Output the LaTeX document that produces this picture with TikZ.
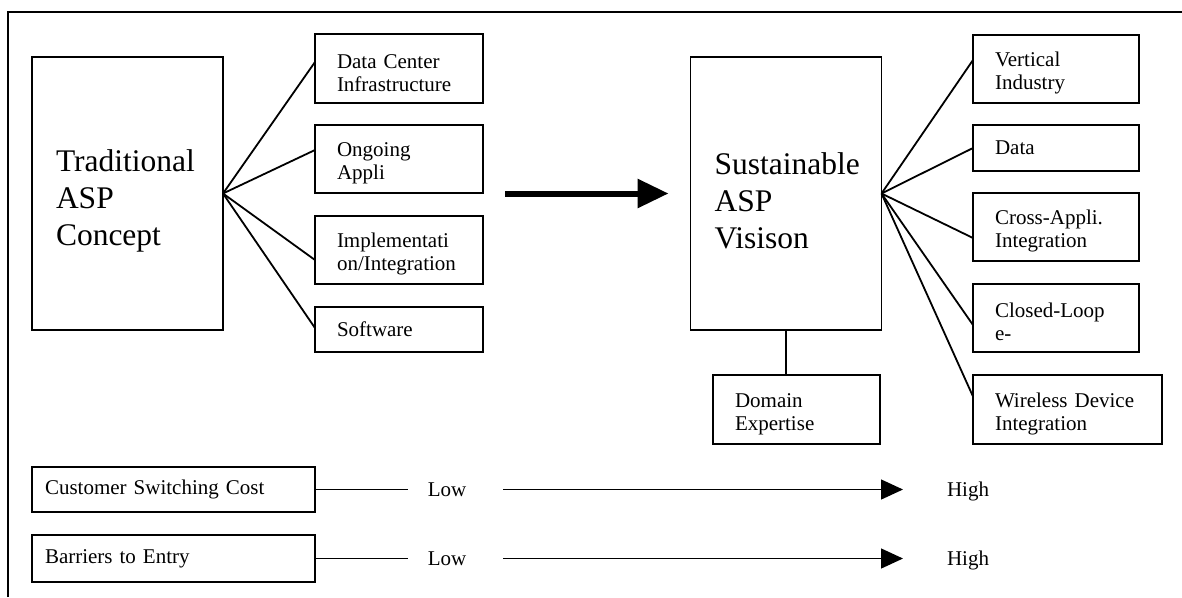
\documentclass[tikz,border=0pt]{standalone}
\usepackage{fontspec}
\setmainfont{Liberation Serif}
\usetikzlibrary{arrows.meta}

\begin{document}
\begin{tikzpicture}[x=1pt,y=-1pt,
  every node/.style={inner ysep=0pt, outer sep=0pt},
  frameline/.style={line width=1.8pt},
  % a tall invisible strut on the first line lowers the text block a little
  textdrop/.style={execute at begin node={\rule{0pt}{#1}}},
  bigbox/.style={draw, line width=1.8pt, minimum width=191pt, minimum height=273pt,
    inner xsep=24pt, text width=143pt, align=left, textdrop=36pt,
    font=\fontsize{31.5}{37}\selectfont},
  smallbox/.style={draw, line width=1.8pt, inner xsep=22pt, align=left,
    font=\fontsize{21}{23}\selectfont},
  twoline/.style={textdrop=23pt},
  link/.style={line width=1.8pt},
  rangeline/.style={line width=1.3pt},
  lbl/.style={inner sep=0pt, font=\fontsize{21}{23}\selectfont, anchor=base},
]
\useasboundingbox (0,0) rectangle (1182,597);

% outer frame (top and left edges)
\draw[frameline] (8,597) -- (8,12) -- (1182,12);

% main concept boxes
\node[bigbox] (trad) at (127.5,193.5) {Traditional\\ASP\\Concept};
\node[bigbox] (sus)  at (786,193.5)   {Sustainable\\ASP\\Visison};

% components of the traditional concept
\node[smallbox, twoline, text width=124pt, minimum height=69pt] (dc)   at (399,68.5)  {Data Center\\Infrastructure};
\node[smallbox, twoline, text width=124pt, minimum height=68pt] (ong)  at (399,159)   {Ongoing\\Appli};
\node[smallbox, twoline, text width=124pt, minimum height=68pt] (impl) at (399,250)   {Implementati\\on/Integration};
\node[smallbox, text width=124pt, minimum height=45pt] (soft) at (399,329.5) {Software};

% components of the sustainable vision
\node[smallbox, twoline, text width=122pt, minimum height=68pt] (vi)    at (1056,69)    {Vertical\\Industry};
\node[smallbox, text width=122pt, minimum height=46pt] (data)  at (1056,148)   {Data};
\node[smallbox, twoline, text width=122pt, minimum height=68pt] (cross) at (1056,227)   {Cross-Appli.\\Integration};
\node[smallbox, twoline, text width=122pt, minimum height=68pt] (loop)  at (1056,318)   {Closed-Loop\\e-};
\node[smallbox, twoline, text width=145pt, minimum height=69pt] (wire)  at (1067.5,409.5) {Wireless Device\\Integration};
\node[smallbox, twoline, text width=123pt, minimum height=69pt] (dom)   at (796.5,409.5)  {Domain\\Expertise};

% fan connectors
\draw[link] (trad.east) -- ([yshift=6.5pt]dc.west);
\draw[link] (trad.east) -- ([yshift=9pt]ong.west);
\draw[link] (trad.east) -- ([yshift=-10pt]impl.west);
\draw[link] (trad.east) -- ([yshift=1.5pt]soft.west);

\draw[link] (sus.east) -- ([yshift=9pt]vi.west);
\draw[link] (sus.east) -- (data.west);
\draw[link] (sus.east) -- ([yshift=-11pt]cross.west);
\draw[link] (sus.east) -- ([yshift=-7pt]loop.west);
\draw[link] (sus.east) -- ([yshift=13pt]wire.west);
\draw[link] (sus.south) -- (sus.south |- dom.north);

% transition arrow
\draw[line width=6pt, -{Triangle[length=31pt,width=28pt]}]
  ([xshift=282pt]trad.east) -- ([xshift=-22pt]sus.west);

% ranges at the bottom
\node[smallbox, inner xsep=13pt, text width=257pt, minimum height=45pt] (cost) at (173.5,489.5) {Customer Switching Cost};
\node[smallbox, inner xsep=13pt, text width=257pt, minimum height=47pt] (bar)  at (173.5,558.5) {Barriers to Entry};

\node[lbl] (low1) at (447,496) {Low};
\node[lbl] (low2) at (447,565) {Low};
\node[lbl, anchor=base west] (high1) at (947,496) {High};
\node[lbl, anchor=base west] (high2) at (947,565) {High};

\coordinate (cstop) at (408,489.5);
\coordinate (cfrom) at (503,489.5);
\coordinate (cto)   at (903,489.5);
\coordinate (bstop) at (408,558.5);
\coordinate (bfrom) at (503,558.5);
\coordinate (bto)   at (903,558.5);

\draw[rangeline] (cost.east) -- (cstop);
\draw[rangeline] (bar.east)  -- (bstop);
\draw[rangeline, -{Triangle[length=22pt,width=20pt]}] (cfrom) -- (cto);
\draw[rangeline, -{Triangle[length=22pt,width=20pt]}] (bfrom) -- (bto);
\end{tikzpicture}
\end{document}
